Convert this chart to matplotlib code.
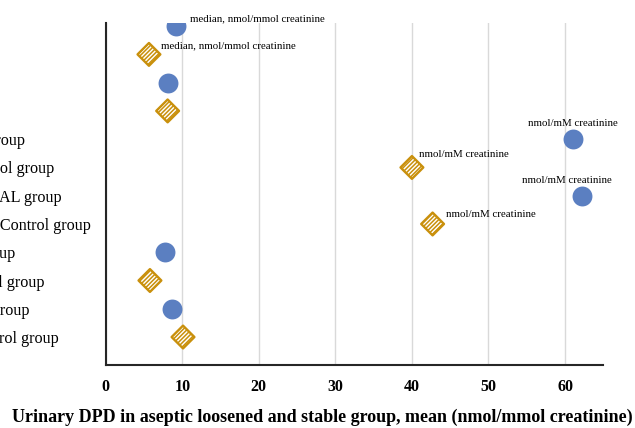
import numpy as np
import matplotlib
matplotlib.use("Agg")
import matplotlib.pyplot as plt

plt.rcParams['font.family'] = ['Liberation Serif', 'DejaVu Serif']
plt.rcParams['hatch.linewidth'] = 1.1

# rows counted from the top; loosened groups are circles, controls are diamonds
loose_rows = [1, 3, 5, 7, 9, 11]
loose_vals = [9.17, 8.09, 61.0, 62.2, 7.78, 8.6]
ctrl_rows = [2, 4, 6, 8, 10, 12]
ctrl_vals = [5.65, 8.09, 40.0, 42.7, 5.78, 10.1]

label_rows = [5, 6, 7, 8, 9, 10, 11, 12]
row_labels = ["Lee et al. AL group", "Lee et al. Control group",
              "Antoniou et al. AL group", "Antoniou et al. Control group",
              "Li et al. AL group", "Li et al. Control group",
              "Kim et al. AL group", "Kim et al. Control group"]

# per-point notes: (row, value, text)
notes = [(1, 9.17, "median, nmol/mmol creatinine"),
         (2, 5.65, "median, nmol/mmol creatinine"),
         (5, 61.0, "nmol/mM creatinine"),
         (6, 40.0, "nmol/mM creatinine"),
         (7, 62.2, "nmol/mM creatinine"),
         (8, 42.7, "nmol/mM creatinine")]
note_offsets = [(10, 5), (9, 6), (-32, 11), (5, 9), (-43, 11), (10, 7)]

blue = '#5B7FC1'
gold = '#C9900C'

fig = plt.figure(figsize=(6.35, 4.28), dpi=100)
ax = fig.add_axes([105.7 / 635, 1 - 365.3 / 428, 497.6 / 635, 342 / 428])

ax.scatter(loose_vals, loose_rows, s=205, color=blue, zorder=3, linewidths=0)
ax.scatter(ctrl_vals, ctrl_rows, s=135, marker='D', facecolor='white',
           edgecolor=gold, hatch='////////', linewidths=1.7, zorder=3)

for (r, v, t), (dx, dy) in zip(notes, note_offsets):
    ax.annotate(t, (v, r), xytext=(dx, dy), textcoords='offset points',
                fontsize=7.8, ha='left', va='center', zorder=4)

ax.set_xlim(0, 65)
ax.set_ylim(13, 0.9)
ax.set_xticks(np.arange(0, 61, 10))
ax.set_xticklabels([str(v) for v in range(0, 61, 10)], fontweight='bold', fontsize=11.5)
ax.set_yticks(label_rows)
ax.set_yticklabels(row_labels, fontsize=11.6)
for lab in ax.get_yticklabels():
    lab.set_horizontalalignment('left')
ax.tick_params(axis='y', length=0, pad=147.9)
ax.tick_params(axis='x', length=0, pad=10)

ax.grid(axis='x', color='#D9D9D9', linewidth=1.0, zorder=0)
ax.set_axisbelow(True)
for side in ['top', 'right']:
    ax.spines[side].set_visible(False)
for side in ['left', 'bottom']:
    ax.spines[side].set_color('#262626')
    ax.spines[side].set_linewidth(1.5)

fig.text(0.507, 0.025, "Urinary DPD in aseptic loosened and stable group, mean (nmol/mmol creatinine)",
         ha='center', va='center', fontsize=13, fontweight='bold')

fig.savefig('out.png', dpi=100)
